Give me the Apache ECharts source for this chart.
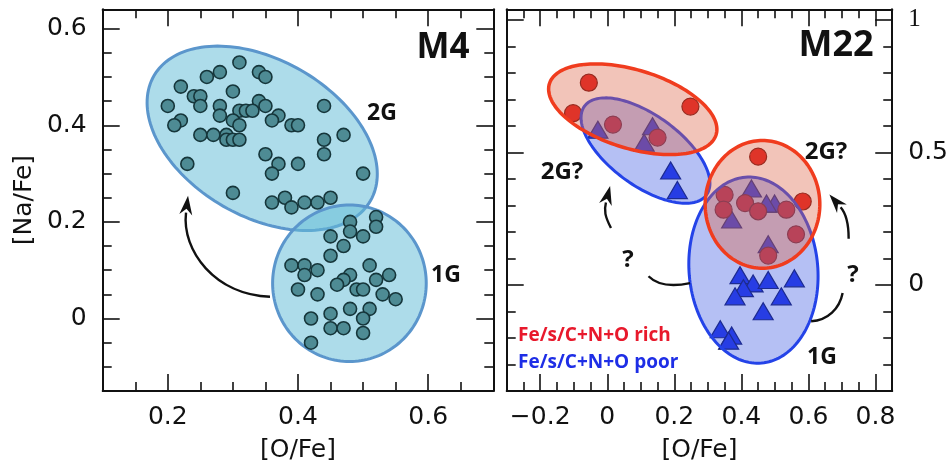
<!DOCTYPE html>
<html>
<head>
<meta charset="utf-8">
<script src="https://cdn.jsdelivr.net/npm/echarts@6/dist/echarts.min.js"></script>
<style>html,body{margin:0;padding:0;background:#fff}#c{width:951px;height:468px}</style>
</head>
<body>
<div id="c"></div>
<script>
// ---------- DATA ----------
// M4, second generation (Na-rich, O-poor)
const m4_2G_OFe = [0.31,0.28,0.26,0.34,0.35,0.22,0.30,0.24,0.25,0.20,0.25,0.28,0.34,0.35,0.31,0.32,0.33,0.44,0.37,0.28,0.30,0.22,0.21,0.31,0.36,0.39,0.40,0.25,0.27,0.29,0.29,0.30,0.31,0.44,0.47,0.44,0.35,0.37,0.40,0.36,0.23,0.50,0.30,0.36,0.38,0.39,0.41,0.43,0.45];
const m4_2G_NaFe = [0.53,0.51,0.50,0.51,0.50,0.48,0.47,0.46,0.46,0.44,0.44,0.44,0.45,0.44,0.43,0.43,0.43,0.44,0.42,0.42,0.41,0.41,0.40,0.40,0.41,0.40,0.40,0.38,0.38,0.38,0.37,0.37,0.37,0.37,0.38,0.34,0.34,0.32,0.32,0.30,0.32,0.30,0.26,0.24,0.25,0.23,0.24,0.24,0.25];
// M4, first generation
const m4_1G_OFe = [0.52,0.52,0.48,0.48,0.45,0.50,0.47,0.45,0.39,0.41,0.41,0.43,0.51,0.48,0.47,0.46,0.54,0.52,0.40,0.43,0.49,0.50,0.53,0.55,0.42,0.45,0.48,0.51,0.45,0.47,0.50,0.50,0.42];
const m4_1G_NaFe = [0.21,0.19,0.20,0.18,0.17,0.17,0.15,0.13,0.11,0.11,0.09,0.10,0.11,0.09,0.08,0.07,0.09,0.08,0.06,0.05,0.06,0.06,0.05,0.04,0.00,0.01,0.02,0.02,-0.02,-0.02,0.00,-0.03,-0.05];
// M22, Fe/s/C+N+O rich (circles)
const m22_rich_OFe = [-0.055,-0.102,0.248,0.017,0.150,0.450,0.350,0.347,0.411,0.450,0.534,0.583,0.563,0.480];
const m22_rich_NaFe = [0.763,0.648,0.673,0.605,0.556,0.484,0.340,0.284,0.309,0.278,0.284,0.315,0.191,0.111];
// M22, Fe/s/C+N+O poor (triangles)
const m22_poor_OFe = [-0.028,0.135,0.110,0.189,0.209,0.430,0.499,0.475,0.371,0.480,0.396,0.435,0.480,0.558,0.406,0.381,0.519,0.465,0.337,0.371,0.362];
const m22_poor_NaFe = [0.586,0.599,0.537,0.432,0.358,0.364,0.307,0.307,0.247,0.154,0.037,0.006,0.019,0.025,-0.012,-0.043,-0.043,-0.099,-0.167,-0.191,-0.210];

// Tick values
const m4_xMajor = [0.2,0.4,0.6];
const m4_xMinor = [0.15,0.25,0.3,0.35,0.45,0.5,0.55,0.65];
const m4_yMajor = [0,0.2,0.4,0.6];
const m4_yMinor = [-0.1,-0.05,0.05,0.1,0.15,0.25,0.3,0.35,0.45,0.5,0.55];
const m22_xMajor = [-0.2,0,0.2,0.4,0.6,0.8];
const m22_xMinor = [-0.25,-0.15,-0.1,-0.05,0.05,0.1,0.15,0.25,0.3,0.35,0.45,0.5,0.55,0.65,0.7,0.75];
const m22_yMajor = [0,0.5,1];
const m22_yMinor = [-0.3,-0.2,-0.1,0.1,0.2,0.3,0.4,0.6,0.7,0.8,0.9];

// Group ellipses: [centre O/Fe, centre Na/Fe, semi-axis (x units), semi-axis (y units), tilt deg]
const m4Ellipses = [[0.345,0.373,0.192,0.162,30],[0.479,0.073,0.118,0.162,0]];
const m22BlueEllipses = [[0.114,0.507,0.225,0.133,36],[0.436,0.056,0.192,0.352,-5]];
const m22RedEllipses = [[0.076,0.663,0.260,0.148,17],[0.463,0.304,0.171,0.241,0]];
// Curved arrows: [x0,y0, cx1,cy1, cx2,cy2, x3,y3, head]
const m4Arrows = [[0.357,0.045,0.273,0.049,0.221,0.140,0.228,0.219,1]];
const m22Arrows = [
  [0.247,0.007,0.194,-0.007,0.149,0.000,0.123,0.033,0],
  [0.011,0.215,-0.007,0.259,-0.010,0.281,-0.004,0.311,1],
  [0.608,-0.137,0.658,-0.133,0.693,-0.089,0.702,-0.030,0],
  [0.720,0.174,0.720,0.230,0.714,0.267,0.696,0.293,1]
];

// ---------- CHART ----------
const INK = '#111111';
const FONT = 'DejaVu Sans';
const BOLD = 'Open Sans';
const zip = (a,b) => a.map((v,i)=>[v,b[i]]);

function makeAxes(dim, grid, min, max, majors, minors, opt) {
  const sides = dim === 'x' ? ['bottom','top'] : ['left','right'];
  const out = [];
  sides.forEach(side => {
    const hasLabel = side === opt.labelSide;
    out.push({
      gridIndex: grid, type: 'value', min, max, position: side,
      splitLine: {show:false},
      axisLine: {show:true, onZero:false, lineStyle:{color:INK, width:2}},
      axisTick: {show:true, inside:true, length:17, customValues:majors, lineStyle:{color:INK, width:1.6}},
      axisLabel: hasLabel ? {show:true, customValues:opt.labels, formatter:opt.fmt, margin:opt.margin,
        color:INK, fontFamily:FONT, fontSize:25, rich:opt.rich||{}} : {show:false},
      name: hasLabel ? (opt.name||'') : '',
      nameLocation:'middle', nameGap: opt.nameGap||40, nameRotate: opt.nameRotate,
      nameTextStyle: {color:INK, fontFamily:FONT, fontSize:25}
    });
    out.push({
      gridIndex: grid, type: 'value', min, max, position: side,
      splitLine: {show:false},
      axisLine: {show:false, onZero:false},
      axisTick: {show:true, inside:true, length:9, customValues:minors, lineStyle:{color:INK, width:1.6}},
      axisLabel: {show:false}
    });
  });
  return out;
}

const fmt1 = v => (Math.abs(v) < 1e-9 ? '0' : (v < 0 ? '\u2212' + (-v).toFixed(1) : v.toFixed(1)));

const xAxis = [
  ...makeAxes('x',0,0.1,0.7,m4_xMajor,m4_xMinor,{labelSide:'bottom',labels:m4_xMajor,fmt:fmt1,margin:14,name:'[O/Fe]',nameGap:47}),
  ...makeAxes('x',1,-0.3,0.85,m22_xMajor,m22_xMinor,{labelSide:'bottom',labels:m22_xMajor,fmt:fmt1,margin:14,name:'[O/Fe]',nameGap:47})
];
const yAxis = [
  ...makeAxes('y',0,-0.15,0.64,m4_yMajor,m4_yMinor,{labelSide:'left',labels:m4_yMajor,fmt:fmt1,margin:16,name:'[Na/Fe]',nameGap:66,nameRotate:90}),
  ...makeAxes('y',1,-0.4,1.04,m22_yMajor,m22_yMinor,{labelSide:'right',labels:m22_yMajor,margin:16,
     fmt: v => (Math.abs(v-1)<1e-9 ? '{s|1}' : (Math.abs(v)<1e-9 ? '0' : v.toFixed(1))),
     rich:{s:{fontFamily:'Liberation Serif', fontSize:25, color:INK}}})
];

function ellipseRenderer(fill, stroke, lw) {
  return function(params, api) {
    const c = api.coord([api.value(0), api.value(1)]);
    const s = api.size([api.value(2), api.value(3)]);
    const th = api.value(4) * Math.PI / 180;
    const ct = Math.cos(th), st = Math.sin(th);
    const pts = [];
    for (let i = 0; i < 160; i++) {
      const t = i / 160 * 2 * Math.PI;
      const a = s[0] * Math.cos(t), b = s[1] * Math.sin(t);
      pts.push([c[0] + a*ct - b*st, c[1] + a*st + b*ct]);
    }
    return {type:'polygon', shape:{points:pts}, style:{fill, stroke, lineWidth:lw}};
  };
}

function arrowRender(params, api) {
  const v = i => api.value(i);
  const p0 = api.coord([v(0),v(1)]), p1 = api.coord([v(2),v(3)]);
  const p2 = api.coord([v(4),v(5)]), p3 = api.coord([v(6),v(7)]);
  const children = [{type:'bezierCurve',
    shape:{x1:p0[0],y1:p0[1],cpx1:p1[0],cpy1:p1[1],cpx2:p2[0],cpy2:p2[1],x2:p3[0],y2:p3[1]},
    style:{stroke:INK, lineWidth:2.4, fill:'none'}}];
  if (v(8)) {
    let dx = p3[0]-p2[0], dy = p3[1]-p2[1];
    const L = Math.hypot(dx,dy) || 1; dx /= L; dy /= L;
    const px = -dy, py = dx, len = 17, w = 6.5;
    children.push({type:'polygon', shape:{points:[
      [p3[0]+dx*len, p3[1]+dy*len],
      [p3[0]+px*w-dx*2, p3[1]+py*w-dy*2],
      [p3[0]+dx*4, p3[1]+dy*4],
      [p3[0]-px*w-dx*2, p3[1]-py*w-dy*2]]}, style:{fill:INK}});
  }
  return {type:'group', children};
}

const series = [
  {type:'custom', coordinateSystem:'cartesian2d', xAxisIndex:0, yAxisIndex:0, z:2, silent:true,
   renderItem: ellipseRenderer('rgba(100,188,215,0.53)','#5b96cc',3), data:m4Ellipses},
  {type:'scatter', xAxisIndex:0, yAxisIndex:0, z:3, symbol:'circle', symbolSize:13,
   itemStyle:{color:'#4e8b94', borderColor:'#16363b', borderWidth:1.6, opacity:1}, data:zip(m4_2G_OFe,m4_2G_NaFe)},
  {type:'scatter', xAxisIndex:0, yAxisIndex:0, z:3, symbol:'circle', symbolSize:13,
   itemStyle:{color:'#4e8b94', borderColor:'#16363b', borderWidth:1.6, opacity:1}, data:zip(m4_1G_OFe,m4_1G_NaFe)},
  {type:'custom', coordinateSystem:'cartesian2d', xAxisIndex:0, yAxisIndex:0, z:5, silent:true,
   renderItem: arrowRender, data:m4Arrows},

  {type:'scatter', xAxisIndex:4, yAxisIndex:4, z:2, symbol:'triangle', symbolSize:[20,17],
   itemStyle:{color:'#1a2de6', borderColor:'#0a0f60', borderWidth:1.2, opacity:1}, data:zip(m22_poor_OFe,m22_poor_NaFe)},
  {type:'scatter', xAxisIndex:4, yAxisIndex:4, z:2, symbol:'circle', symbolSize:17,
   itemStyle:{color:'#e01818', borderColor:'#6e0808', borderWidth:1.2, opacity:1}, data:zip(m22_rich_OFe,m22_rich_NaFe)},
  {type:'custom', coordinateSystem:'cartesian2d', xAxisIndex:4, yAxisIndex:4, z:3, silent:true,
   renderItem: ellipseRenderer('rgba(60,90,225,0.38)','#2443e8',3), data:m22BlueEllipses},
  {type:'custom', coordinateSystem:'cartesian2d', xAxisIndex:4, yAxisIndex:4, z:4, silent:true,
   renderItem: ellipseRenderer('rgba(220,100,70,0.38)','#f03c1e',3.5), data:m22RedEllipses},
  {type:'custom', coordinateSystem:'cartesian2d', xAxisIndex:4, yAxisIndex:4, z:5, silent:true,
   renderItem: arrowRender, data:m22Arrows}
];

function txt(text, x, y, size, color, align) {
  return {type:'text', x, y, z:100, silent:true,
    style:{text, fontSize:size, fontWeight:'bold', fontFamily:BOLD, fill:color||INK,
      align:align||'center', verticalAlign:'middle'}};
}

const option = {
  animation:false,
  grid:[
    {left:102.7, top:9.3, width:390.6, height:389, containLabel:false},
    {left:506.7, top:9.3, width:390, height:389, containLabel:false}
  ],
  xAxis, yAxis, series,
  graphic:[
    txt('M4',443,48,35), txt('M22',836,46,36),
    txt('2G',382,113,23), txt('1G',446,275,23),
    txt('2G?',562,172,24), txt('2G?',826,152,24), txt('1G',822,357,23),
    txt('?',628,260,24), txt('?',853,275,24),
    txt('Fe/s/C+N+O rich',518,336,19,'#e8192c','left'),
    txt('Fe/s/C+N+O poor',518,363,19,'#1e2ee6','left')
  ]
};

const chart = echarts.init(document.getElementById('c'), null, {renderer:'canvas'});
chart.setOption(option);
</script>
</body>
</html>
